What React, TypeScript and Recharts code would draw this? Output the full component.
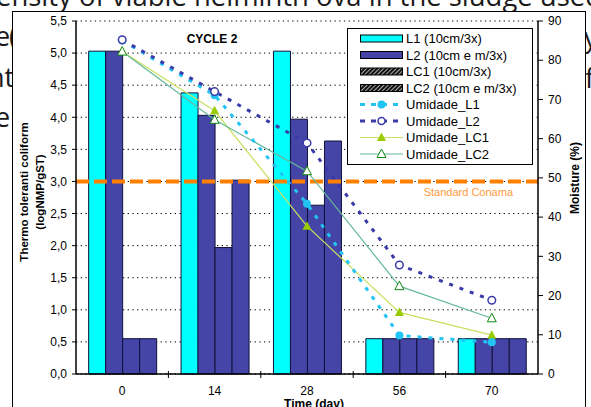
import React from 'react';
import {
  ComposedChart,
  Bar,
  Line,
  XAxis,
  YAxis,
  CartesianGrid,
  ReferenceLine,
  Legend,
} from 'recharts';

// ---------- data ----------
const days = ['0', '14', '28', '56', '70'];
const l1 = [5.03, 4.38, 5.03, 0.55, 0.55];
const l2 = [5.03, 4.03, 3.97, 0.55, 0.55];
const lc1 = [0.55, 1.97, 2.63, 0.55, 0.55];
const lc2 = [0.55, 3.02, 3.63, 0.55, 0.55];
const umidadeL1 = [85.0, 71.1, 43.4, 9.8, 8.1];
const umidadeL2 = [85.2, 72.0, 58.9, 27.8, 18.8];
const umidadeLC1 = [82.2, 67.1, 37.7, 15.7, 9.9];
const umidadeLC2 = [82.2, 64.8, 51.7, 22.4, 14.2];
const leftTicks = [0, 0.5, 1, 1.5, 2, 2.5, 3, 3.5, 4, 4.5, 5, 5.5];
const rightTicks = [0, 10, 20, 30, 40, 50, 60, 70, 80, 90];
const conamaStandard = 3;
const seriesNames = [
  'L1 (10cm/3x)',
  'L2 (10cm e m/3x)',
  'LC1 (10cm/3x)',
  'LC2 (10cm e m/3x)',
  'Umidade_L1',
  'Umidade_L2',
  'Umidade_LC1',
  'Umidade_LC2',
];

const data = days.map((d, i) => ({
  day: d,
  L1: l1[i],
  L2: l2[i],
  LC1: lc1[i],
  LC2: lc2[i],
  UL1: umidadeL1[i],
  UL2: umidadeL2[i],
  ULC1: umidadeLC1[i],
  ULC2: umidadeLC2[i],
}));

const FONT = '"Liberation Sans", Arial, sans-serif';
const CYAN = '#00FFFF';
const BLUE = '#4545A8';
const BAR_STROKE = '#10103a';
const C_UL1 = '#22C4F4';
const C_UL2 = '#3A3AA8';
const C_LC1_LINE = '#C8E060';
const C_LC1_MARK = '#99CC00';
const C_LC2_LINE = '#66B89A';
const C_LC2_MARK = '#108810';
const ORANGE = '#FF8000';

const commaFmt = (v: number) => v.toFixed(1).replace('.', ',');

const triPath = (cx: number, cy: number, s = 1) =>
  `M${cx},${cy - 5 * s} L${cx + 4.5 * s},${cy + 3.5 * s} L${cx - 4.5 * s},${cy + 3.5 * s} Z`;

const XTick = (props: any) => {
  const { x, y, payload, index } = props;
  const half = payload && typeof payload.offset === 'number' ? payload.offset : 46;
  return (
    <g>
      <text x={x} y={y + 21} textAnchor="middle" fontSize={12} fontFamily={FONT} fill="#000">
        {payload.value}
      </text>
      {index < days.length - 1 && (
        <line x1={x + half} x2={x + half} y1={y - 3} y2={y + 4} stroke="#000" strokeWidth={1} />
      )}
    </g>
  );
};

const LegendBox = () => {
  const rowY = (i: number) => 10.5 + i * 16.5;
  return (
    <svg width={187} height={138} style={{ display: 'block' }}>
      <defs>
        <pattern
          id="hatchPat"
          width="3"
          height="3"
          patternUnits="userSpaceOnUse"
          patternTransform="rotate(45)"
        >
          <rect width="3" height="3" fill="#111" />
          <line x1="0.5" y1="0" x2="0.5" y2="3" stroke="#bbb" strokeWidth="0.9" />
        </pattern>
      </defs>
      <rect x={0.5} y={0.5} width={185} height={136} fill="#fff" stroke="#000" strokeWidth={1} />
      {seriesNames.map((name, i) => {
        const cy = rowY(i);
        let sym: React.ReactNode = null;
        if (i === 0) sym = <rect x={13.5} y={cy - 3.5} width={42} height={7} fill={CYAN} stroke="#000" />;
        if (i === 1) sym = <rect x={13.5} y={cy - 3.5} width={42} height={7} fill={BLUE} stroke="#000" />;
        if (i === 2 || i === 3)
          sym = <rect x={13.5} y={cy - 3.5} width={42} height={7} fill="url(#hatchPat)" stroke="#000" />;
        if (i === 4)
          sym = (
            <g>
              <line x1={13} x2={56} y1={cy} y2={cy} stroke={C_UL1} strokeWidth={3} strokeDasharray="5 6" />
              <circle cx={34.5} cy={cy} r={4} fill={C_UL1} />
            </g>
          );
        if (i === 5)
          sym = (
            <g>
              <line x1={13} x2={56} y1={cy} y2={cy} stroke={C_UL2} strokeWidth={3} strokeDasharray="5 6" />
              <circle cx={34.5} cy={cy} r={3.5} fill="#fff" stroke={C_UL2} strokeWidth={1.5} />
            </g>
          );
        if (i === 6)
          sym = (
            <g>
              <line x1={13} x2={56} y1={cy} y2={cy} stroke={C_LC1_LINE} strokeWidth={1.2} />
              <path d={triPath(34.5, cy)} fill={C_LC1_MARK} />
            </g>
          );
        if (i === 7)
          sym = (
            <g>
              <line x1={13} x2={56} y1={cy} y2={cy} stroke={C_LC2_LINE} strokeWidth={1.2} />
              <path d={triPath(34.5, cy)} fill="#fff" stroke={C_LC2_MARK} strokeWidth={1} />
            </g>
          );
        return (
          <g key={name}>
            {sym}
            <text x={59} y={cy + 4.5} fontSize={13} fontFamily={FONT} fill="#000">
              {name}
            </text>
          </g>
        );
      })}
    </svg>
  );
};

const ConamaLabel = (props: any) => {
  const vb = props.viewBox || {};
  const x = (vb.x ?? 76) + (vb.width ?? 462) - 25;
  const y = (vb.y ?? 181) + 15;
  return (
    <text x={x} y={y} textAnchor="end" fontSize={11} fontFamily={FONT} fill="#FF9A3C">
      Standard Conama
    </text>
  );
};

export default function App() {
  const bold = { fontFamily: FONT, fontWeight: 700, fontSize: 12, fill: '#000' } as const;
  return (
    <div
      style={{
        position: 'absolute',
        left: 0,
        top: 0,
        width: 591,
        height: 407,
        overflow: 'hidden',
        background: '#fff',
      }}
    >
      {/* background document fragments */}
      <svg width={591} height={407} style={{ position: 'absolute', left: 0, top: 0 }}>
        <g fontFamily='"Open Sans", sans-serif' fontSize={27} fill="#1a1a1a">
          <text x={-4} y={6} textLength={606} lengthAdjust="spacingAndGlyphs">
            ensity of viable helminth ova in the sludge used
          </text>
          <text x={-5} y={46}>e</text>
          <text x={9} y={46}>(</text>
          <text x={-12} y={87}>nt</text>
          <text x={-5} y={127}>e</text>
          <text x={584} y={47}>y</text>
          <text x={585} y={88}>f</text>
        </g>
      </svg>
      {/* chart frame */}
      <div
        style={{
          position: 'absolute',
          left: 12,
          top: 11,
          width: 572,
          height: 500,
          border: '1.4px solid #000',
          background: '#fff',
        }}
      />
      <div style={{ position: 'absolute', left: 0, top: 0 }}>
        <ComposedChart
          width={591}
          height={407}
          data={data}
          margin={{ top: 21, right: 23, left: 46, bottom: 13 }}
          barCategoryGap="13.7%"
          barGap={0}
        >
          <CartesianGrid
            yAxisId="left"
            vertical={false}
            stroke="#000"
            strokeDasharray="1.3 3.4"
            strokeWidth={1}
          />
          <XAxis
            dataKey="day"
            height={20}
            tickLine={false}
            tickSize={0}
            tickMargin={0}
            axisLine={{ stroke: '#000', strokeWidth: 1.5 }}
            tick={<XTick />}
            interval={0}
          />
          <YAxis
            yAxisId="left"
            orientation="left"
            width={30}
            domain={[0, 5.5]}
            ticks={leftTicks}
            interval={0}
            tickFormatter={commaFmt}
            tickSize={4}
            tickMargin={5}
            axisLine={{ stroke: '#000', strokeWidth: 1.5 }}
            tickLine={{ stroke: '#000' }}
            tick={{ fontSize: 12, fontFamily: FONT, fill: '#000' }}
          />
          <YAxis
            yAxisId="right"
            orientation="right"
            width={30}
            domain={[0, 90]}
            ticks={rightTicks}
            interval={0}
            tickSize={5}
            tickMargin={5}
            axisLine={{ stroke: '#000', strokeWidth: 1.5 }}
            tickLine={{ stroke: '#000' }}
            tick={{ fontSize: 12, fontFamily: FONT, fill: '#000' }}
          />
          <Legend
            layout="vertical"
            align="center"
            verticalAlign="middle"
            wrapperStyle={{ position: 'absolute', left: 347, top: 28, width: 187, height: 138 }}
            content={() => <LegendBox />}
          />
          <Bar yAxisId="left" dataKey="L1" name={seriesNames[0]} fill={CYAN} stroke={BAR_STROKE} strokeWidth={1} isAnimationActive={false} />
          <Bar yAxisId="left" dataKey="L2" name={seriesNames[1]} fill={BLUE} stroke={BAR_STROKE} strokeWidth={1} isAnimationActive={false} />
          <Bar yAxisId="left" dataKey="LC1" name={seriesNames[2]} fill={BLUE} stroke={BAR_STROKE} strokeWidth={1} isAnimationActive={false} />
          <Bar yAxisId="left" dataKey="LC2" name={seriesNames[3]} fill={BLUE} stroke={BAR_STROKE} strokeWidth={1} isAnimationActive={false} />
          <ReferenceLine
            yAxisId="left"
            y={conamaStandard}
            stroke={ORANGE}
            strokeWidth={4}
            strokeDasharray="13 5"
            label={<ConamaLabel />}
          />
          <Line
            yAxisId="right"
            dataKey="ULC1"
            name={seriesNames[6]}
            type="linear"
            stroke={C_LC1_LINE}
            strokeWidth={1.2}
            isAnimationActive={false}
            dot={(p: any) => <path key={`lc1-${p.index}`} d={triPath(p.cx, p.cy)} fill={C_LC1_MARK} />}
            activeDot={false}
          />
          <Line
            yAxisId="right"
            dataKey="ULC2"
            name={seriesNames[7]}
            type="linear"
            stroke={C_LC2_LINE}
            strokeWidth={1.2}
            isAnimationActive={false}
            dot={(p: any) => (
              <path key={`lc2-${p.index}`} d={triPath(p.cx, p.cy)} fill="#fff" stroke={C_LC2_MARK} strokeWidth={1} />
            )}
            activeDot={false}
          />
          <Line
            yAxisId="right"
            dataKey="UL1"
            name={seriesNames[4]}
            type="linear"
            stroke={C_UL1}
            strokeWidth={3}
            strokeDasharray="4 7"
            isAnimationActive={false}
            dot={(p: any) => <circle key={`ul1-${p.index}`} cx={p.cx} cy={p.cy} r={4} fill={C_UL1} />}
            activeDot={false}
          />
          <Line
            yAxisId="right"
            dataKey="UL2"
            name={seriesNames[5]}
            type="linear"
            stroke={C_UL2}
            strokeWidth={3}
            strokeDasharray="4 7"
            isAnimationActive={false}
            dot={(p: any) => (
              <circle key={`ul2-${p.index}`} cx={p.cx} cy={p.cy} r={3.8} fill="#fff" stroke={C_UL2} strokeWidth={1.5} />
            )}
            activeDot={false}
          />
        </ComposedChart>
      </div>
      {/* titles and axis labels */}
      <svg
        width={591}
        height={407}
        style={{ position: 'absolute', left: 0, top: 0, pointerEvents: 'none' }}
      >
        <text x={212} y={43} textAnchor="middle" {...bold}>
          CYCLE 2
        </text>
        <text transform="translate(28,192) rotate(-90)" textAnchor="middle" {...bold} fontSize={11.5}>
          Thermo toleranti coliform
        </text>
        <text transform="translate(44,192) rotate(-90)" textAnchor="middle" {...bold} fontSize={11.5}>
          (logNMP/gST)
        </text>
        <text transform="translate(579,178) rotate(-90)" textAnchor="middle" {...bold}>
          Moisture (%)
        </text>
        <text x={314} y={408} textAnchor="middle" {...bold}>
          Time (day)
        </text>
      </svg>
    </div>
  );
}
